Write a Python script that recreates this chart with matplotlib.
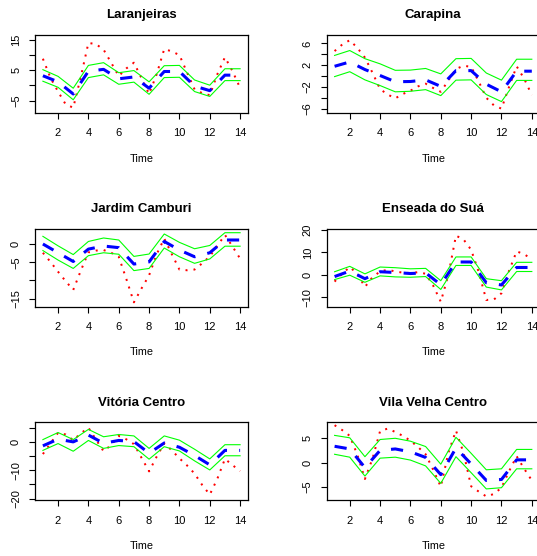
import numpy as np
import matplotlib
matplotlib.use('Agg')
import matplotlib.pyplot as plt

plt.rcParams['font.family'] = ['Liberation Sans', 'DejaVu Sans']

# time axis (monthly index) and half-step grid of the observed curve
time = np.arange(1, 15)
time_obs = np.arange(1, 14.5, 0.5)

# Laranjeiras
lar_obs = [8.8, 2.5, -2.0, -6.2, -7.3, 2.8, 14.0, 13.6, 11.8, 7.5, 3.1, 5.6, 7.5, 2.4,
           -2.8, 3.7, 12.0, 11.2, 10.0, 4.3, -1.3, -2.5, -3.2, 3.7, 9.3, 4.7, -0.8]
lar_mean = [3.2, 1.2, -2.8, 4.7, 5.3, 2.2, 2.8, -0.9, 4.6, 4.6, -0.2, -1.7, 3.4, 3.4]
lar_upper = [5.2, 3.0, -0.9, 6.6, 7.5, 4.2, 4.9, 1.2, 6.5, 6.6, 1.8, 0.1, 5.5, 5.5]
lar_lower = [1.4, -0.6, -4.7, 2.6, 3.5, 0.4, 1.1, -2.9, 2.6, 2.7, -2.0, -3.6, 1.6, 1.6]

# Carapina
car_obs = [4.6, 5.8, 6.6, 5.2, 3.4, 0.6, -2.4, -3.4, -4.1, -3.3, -2.7, -1.9, -1.4, -2.2,
           -2.9, -0.8, 1.3, 1.9, 1.7, -1.0, -4.0, -5.4, -6.0, -2.0, 1.8, -0.5, -3.5]
car_mean = [1.8, 2.6, 1.2, 0.1, -1.05, -1.0, -0.7, -1.9, 1.0, 1.0, -1.5, -2.9, 0.9, 0.9]
car_upper = [3.8, 4.7, 3.2, 2.25, 1.06, 1.1, 1.4, 0.4, 3.2, 3.25, 0.56, -0.75, 3.1, 3.1]
car_lower = [-0.1, 0.8, -0.7, -1.75, -2.9, -2.8, -2.5, -3.6, -0.75, -0.7, -3.4, -4.7, -0.8, -0.8]

# Jardim Camburi
jc_obs = [-2.4, -4.9, -7.6, -10.2, -12.6, -7.3, -2.3, -1.8, -1.65, -2.4, -3.5, -9.6, -16.0, -12.2,
          -8.6, -2.8, 1.5, -2.8, -7.0, -7.2, -7.0, -5.3, -3.4, -0.5, 2.5, -0.7, -4.0]
jc_mean = [0.0, -2.4, -4.8, -1.4, -0.55, -1.0, -5.5, -4.9, 0.7, -1.65, -3.5, -2.4, 1.1, 1.1]
jc_upper = [2.1, -0.5, -2.9, 0.7, 1.65, 1.1, -3.4, -2.75, 2.75, 0.45, -1.3, -0.4, 3.1, 3.1]
jc_lower = [-1.8, -4.4, -6.7, -3.2, -2.4, -2.8, -7.3, -6.7, -1.1, -3.5, -5.3, -4.1, -0.6, -0.6]

# Enseada do Suá
es_obs = [-3.0, 0.5, 3.5, 0.5, -5.4, -1.0, 1.5, 2.3, 1.5, 1.0, 0.8, 1.2, 0.5, -4.8,
          -12.0, 0.0, 17.5, 15.8, 11.2, 1.3, -11.2, -11.0, -8.2, 1.8, 10.5, 9.2, 7.0]
es_mean = [-0.75, 1.7, -1.7, 1.4, 1.06, 0.6, 0.9, -4.4, 5.75, 5.75, -3.5, -4.5, 3.3, 3.3]
es_upper = [1.4, 3.8, 0.45, 3.5, 3.2, 2.7, 2.9, -2.6, 8.0, 8.0, -1.7, -2.6, 5.6, 5.6]
es_lower = [-2.1, -0.15, -3.3, -0.45, -0.9, -1.06, -0.75, -6.5, 4.2, 4.2, -5.45, -6.7, 1.5, 1.5]

# Vitória Centro
vc_obs = [-4.3, -0.5, 3.2, 2.6, 0.6, 3.0, 5.0, 0.8, -3.3, -1.1, 2.1, 0.9, -0.8, -5.6,
          -10.4, -5.2, -0.5, -3.0, -5.8, -8.3, -11.2, -15.2, -18.6, -13.0, -6.0, -8.2, -10.3]
vc_mean = [-1.4, 0.95, 0.0, 2.4, -0.5, 0.5, 0.1, -4.0, -0.4, -1.9, -4.8, -8.1, -3.0, -3.0]
vc_upper = [0.8, 3.3, 0.8, 4.4, 1.8, 2.6, 2.1, -2.3, 2.1, 0.6, -2.6, -6.0, -1.0, -1.0]
vc_lower = [-3.0, -0.6, -3.3, 0.5, -2.3, -1.3, -1.7, -6.1, -1.7, -3.2, -6.7, -9.9, -4.9, -4.9]

# Vila Velha Centro
vv_obs = [7.7, 6.7, 5.5, 1.6, -3.4, 0.8, 6.5, 7.0, 6.3, 5.5, 4.5, 3.2, 1.7, -1.5,
          -5.0, 2.0, 6.6, 2.0, -4.9, -6.0, -7.0, -6.5, -5.2, -1.8, 1.3, -1.3, -3.7]
vv_mean = [3.35, 2.8, -1.05, 2.5, 2.8, 2.2, 1.05, -2.5, 3.0, -0.3, -3.7, -3.5, 0.55, 0.55]
vv_upper = [5.6, 5.1, 1.2, 4.75, 5.0, 4.4, 3.3, -0.35, 5.2, 1.9, -1.5, -1.3, 2.7, 2.7]
vv_lower = [1.7, 1.1, -2.8, 0.9, 1.1, 0.5, -0.7, -4.3, 1.2, -2.1, -5.45, -5.2, -1.3, -1.3]

panels = [
    ('Laranjeiras', lar_obs, lar_mean, lar_upper, lar_lower,
     [-5, 0, 5, 10, 15], ['\u22125', '', '5', '', '15'], (-9.05, 16.6)),
    ('Carapina', car_obs, car_mean, car_upper, car_lower,
     [-6, -4, -2, 0, 2, 4, 6], ['\u22126', '', '\u22122', '', '2', '', '6'], (-6.8, 7.56)),
    ('Jardim Camburi', jc_obs, jc_mean, jc_upper, jc_lower,
     [-15, -10, -5, 0], ['\u221215', '', '\u22125', '0'], (-17.2, 4.2)),
    ('Enseada do Suá', es_obs, es_mean, es_upper, es_lower,
     [-10, 0, 10, 20], ['\u221210', '0', '10', '20'], (-14.2, 20.6)),
    ('Vitória Centro', vc_obs, vc_mean, vc_upper, vc_lower,
     [-20, -15, -10, -5, 0, 5], ['\u221220', '', '\u221210', '', '0', ''], (-20.6, 6.9)),
    ('Vila Velha Centro', vv_obs, vv_mean, vv_upper, vv_lower,
     [-5, 0, 5], ['\u22125', '0', '5'], (-7.8, 8.3)),
]

W, H = 537, 556
lefts = [35, 326.7]
tops = [35, 228.7, 422.3]
box_w, box_h = 213, 78

fig = plt.figure(figsize=(W / 100, H / 100), dpi=100)

for i, (name, obs, mean, upper, lower, yt, ytl, ylim) in enumerate(panels):
    left = lefts[i % 2]
    top = tops[i // 2]
    ax = fig.add_axes([left / W, 1 - (top + box_h) / H, box_w / W, box_h / H])

    ax.plot(time_obs, obs, color='red', lw=1.44, dashes=(1, 3), dash_capstyle='butt')
    ax.plot(time, upper, color='#00ff00', lw=0.8)
    ax.plot(time, lower, color='#00ff00', lw=0.8)
    ax.plot(time, mean, color='blue', lw=2.2, dashes=(4, 4), dash_capstyle='butt')

    ax.set_xlim(0.48, 14.52)
    ax.set_ylim(*ylim)
    ax.set_xticks([2, 4, 6, 8, 10, 12, 14])
    ax.set_yticks(yt)
    ax.set_yticklabels(ytl, rotation=90, va='center')
    ax.tick_params(direction='out', length=4, width=0.8, labelsize=8, pad=6)
    ax.tick_params(axis='x', pad=7)
    for s in ax.spines.values():
        s.set_linewidth(0.9)
    ax.set_title(name, fontsize=9.5, fontweight='bold', pad=12)
    ax.set_xlabel('Time', fontsize=7.8, labelpad=11)

fig.savefig('out.png', dpi=100)
